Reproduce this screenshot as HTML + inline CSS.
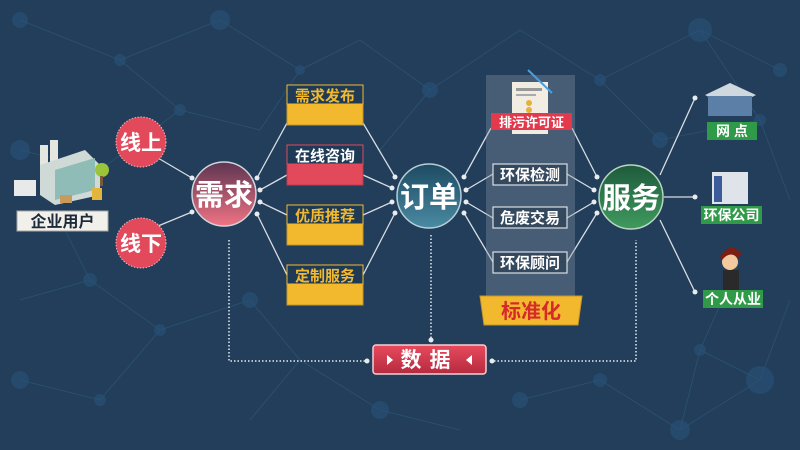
<!DOCTYPE html>
<html><head><meta charset="utf-8"><style>
html,body{margin:0;padding:0;background:#213c58;}
svg{display:block;font-family:"Liberation Sans","Noto Sans CJK SC",sans-serif;font-weight:bold;}
</style></head><body>
<svg width="800" height="450" viewBox="0 0 800 450" xmlns="http://www.w3.org/2000/svg">
<defs>
<linearGradient id="gr" x1="0" y1="0" x2="0" y2="1"><stop offset="0" stop-color="#5e3550"/><stop offset="1" stop-color="#f07384"/></linearGradient>
<linearGradient id="gt" x1="0" y1="0" x2="0" y2="1"><stop offset="0" stop-color="#1d4a62"/><stop offset="1" stop-color="#4a8aa3"/></linearGradient>
<linearGradient id="gg" x1="0" y1="0" x2="0" y2="1"><stop offset="0" stop-color="#1e5a3c"/><stop offset="1" stop-color="#3f9a5e"/></linearGradient>
<linearGradient id="gd" x1="0" y1="0" x2="0" y2="1"><stop offset="0" stop-color="#e84a5c"/><stop offset="1" stop-color="#b52a40"/></linearGradient>
</defs>
<rect width="800" height="450" fill="#223e5a"/>
<g stroke="#2d5272" stroke-width="1" fill="none" opacity="0.8">
<path d="M20 20L120 60L180 110L100 170L20 150M120 60L220 20L300 70L360 40L430 90L520 30L600 80L700 30L780 70M300 70L260 130L180 110M430 90L380 150M600 80L660 140L760 120L790 200M700 30L760 120M20 300L90 280L160 330L100 400L20 380M160 330L250 300L300 360L250 420M300 360L380 410L460 430M520 400L600 380L680 430L760 380L790 300M680 430L700 350L760 380M60 220L90 280M700 350L740 260"/>
</g>
<g fill="#285075" opacity="0.7">
<circle cx="20" cy="20" r="8"/><circle cx="120" cy="60" r="6"/><circle cx="220" cy="20" r="10"/><circle cx="300" cy="70" r="5"/><circle cx="430" cy="90" r="8"/><circle cx="600" cy="80" r="6"/><circle cx="700" cy="30" r="12"/><circle cx="780" cy="70" r="7"/><circle cx="180" cy="110" r="6"/><circle cx="20" cy="150" r="10"/><circle cx="660" cy="140" r="8"/><circle cx="760" cy="120" r="6"/><circle cx="90" cy="280" r="7"/><circle cx="20" cy="380" r="9"/><circle cx="160" cy="330" r="6"/><circle cx="250" cy="300" r="8"/><circle cx="100" cy="400" r="6"/><circle cx="380" cy="410" r="9"/><circle cx="600" cy="380" r="7"/><circle cx="680" cy="430" r="10"/><circle cx="760" cy="380" r="14"/><circle cx="700" cy="350" r="6"/><circle cx="520" cy="400" r="8"/>
</g>
<g stroke="#d8dde2" stroke-width="1.3" fill="none">
<path d="M158 158L192 178M158 226L192 212"/>
<path d="M257 178L287 123M260 190L287 175M260 202L287 215M257 214L287 275"/>
<path d="M363 123L395 177M363 175L392 188M363 215L392 202M363 275L395 213"/>
<path d="M464 177L491 128M466 190L493 174M466 202L493 218M464 213L493 262"/>
<path d="M572 128L597 177M567 174L594 190M567 218L594 202M567 262L597 213"/>
<path d="M660 175L695 98M664 197L695 197M660 220L695 292"/>
</g>
<g fill="#e8ecef">
<circle cx="192" cy="178" r="2.5"/><circle cx="192" cy="212" r="2.5"/><circle cx="257" cy="178" r="2.5"/><circle cx="260" cy="190" r="2.5"/><circle cx="260" cy="202" r="2.5"/><circle cx="257" cy="214" r="2.5"/>
<circle cx="395" cy="177" r="2.5"/><circle cx="392" cy="188" r="2.5"/><circle cx="392" cy="202" r="2.5"/><circle cx="395" cy="213" r="2.5"/>
<circle cx="464" cy="177" r="2.5"/><circle cx="466" cy="190" r="2.5"/><circle cx="466" cy="202" r="2.5"/><circle cx="464" cy="213" r="2.5"/>
<circle cx="597" cy="177" r="2.5"/><circle cx="594" cy="190" r="2.5"/><circle cx="594" cy="202" r="2.5"/><circle cx="597" cy="213" r="2.5"/>
<circle cx="695" cy="98" r="2.5"/><circle cx="695" cy="197" r="2.5"/><circle cx="695" cy="292" r="2.5"/>
<circle cx="431" cy="340" r="2.5"/><circle cx="367" cy="361" r="2.5"/><circle cx="492" cy="361" r="2.5"/>
</g>
<g stroke="#e8ecef" stroke-width="1.5" stroke-dasharray="1.5 2" fill="none">
<path d="M229 240V361H365M431 235V338M494 361H636V240"/>
</g>
<rect x="486" y="75" width="89" height="250" fill="#8a99a8" opacity="0.35"/>
<g>
<rect x="40" y="145" width="8" height="30" fill="#e6e6e0"/><rect x="50" y="140" width="8" height="35" fill="#e6e6e0"/>
<polygon points="40,165 85,150 100,165 100,195 55,205 40,195" fill="#cfd9d6"/>
<polygon points="55,170 95,158 95,190 55,200" fill="#8fbcb6"/>
<rect x="14" y="180" width="22" height="16" fill="#e8eaea"/>
<circle cx="102" cy="170" r="7" fill="#9cc43b"/><rect x="100" y="176" width="3" height="10" fill="#7a5a3a"/>
<rect x="60" y="195" width="12" height="8" fill="#c99a5b"/><rect x="92" y="188" width="10" height="12" fill="#e3b53a"/>
</g>
<rect x="17" y="211" width="91" height="20" fill="#f2f0ea" stroke="#a8a8a8"/>
<text x="62.5" y="227" font-size="16" text-anchor="middle" fill="#1d2a3a">企业用户</text>
<circle cx="141" cy="142" r="25" fill="#e24a5c" stroke="#f4b5bd" stroke-dasharray="1.5 1.5"/>
<text x="141" y="150" font-size="21" text-anchor="middle" fill="#fff">线上</text>
<circle cx="141" cy="243" r="25" fill="#e24a5c" stroke="#f4b5bd" stroke-dasharray="1.5 1.5"/>
<text x="141" y="251" font-size="21" text-anchor="middle" fill="#fff">线下</text>
<circle cx="224" cy="194" r="32" fill="url(#gr)" stroke="#cfd6dc" stroke-width="1.5"/>
<text x="224" y="205" font-size="29" text-anchor="middle" fill="#fff">需求</text>
<circle cx="429" cy="196" r="32" fill="url(#gt)" stroke="#b8cfd8" stroke-width="1.5"/>
<text x="429" y="207" font-size="29" text-anchor="middle" fill="#fff">订单</text>
<circle cx="631" cy="197" r="32" fill="url(#gg)" stroke="#b8d8c2" stroke-width="1.5"/>
<text x="631" y="208" font-size="29" text-anchor="middle" fill="#fff">服务</text>
<g>
<rect x="287" y="85" width="76" height="40" fill="#f3b92e" stroke="#c6962b"/><rect x="287" y="85" width="76" height="19" fill="#1e3a55" stroke="#f3b92e"/>
<text x="325" y="101" font-size="15" text-anchor="middle" fill="#f3b92e">需求发布</text>
<rect x="287" y="145" width="76" height="40" fill="#e24a5c" stroke="#c03a4c"/><rect x="287" y="145" width="76" height="19" fill="#1e3a55" stroke="#e24a5c"/>
<text x="325" y="161" font-size="15" text-anchor="middle" fill="#fff">在线咨询</text>
<rect x="287" y="205" width="76" height="40" fill="#f3b92e" stroke="#c6962b"/><rect x="287" y="205" width="76" height="19" fill="#1e3a55" stroke="#f3b92e"/>
<text x="325" y="221" font-size="15" text-anchor="middle" fill="#f3b92e">优质推荐</text>
<rect x="287" y="265" width="76" height="40" fill="#f3b92e" stroke="#c6962b"/><rect x="287" y="265" width="76" height="19" fill="#1e3a55" stroke="#f3b92e"/>
<text x="325" y="281" font-size="15" text-anchor="middle" fill="#f3b92e">定制服务</text>
</g>
<rect x="512" y="82" width="36" height="52" fill="#f1ede2"/>
<rect x="516" y="88" width="26" height="3" fill="#999"/><rect x="516" y="94" width="20" height="2" fill="#aaa"/>
<circle cx="529" cy="103" r="3" fill="#e6b13a"/><circle cx="529" cy="110" r="3" fill="#e6b13a"/>
<line x1="528" y1="70" x2="552" y2="93" stroke="#4aa0e0" stroke-width="2"/>
<rect x="491" y="113" width="81" height="17" fill="#e2394d"/>
<text x="531.5" y="127" font-size="13" text-anchor="middle" fill="#fff">排污许可证</text>
<g fill="#34495e" stroke="#d8dde2" stroke-width="1.2">
<rect x="493" y="164" width="74" height="21"/><rect x="493" y="207" width="74" height="21"/><rect x="493" y="252" width="74" height="21"/>
</g>
<g font-size="15" text-anchor="middle" fill="#fff">
<text x="530" y="180">环保检测</text><text x="530" y="223">危废交易</text><text x="530" y="268">环保顾问</text>
</g>
<polygon points="480,296 582,296 578,325 484,325" fill="#f3b92e" stroke="#c6962b"/>
<text x="531" y="318" font-size="20" text-anchor="middle" fill="#d62a2a">标准化</text>
<rect x="373" y="345" width="113" height="29" rx="3" fill="url(#gd)" stroke="#f3d0d4" stroke-width="1.5"/>
<polygon points="387,355 387,365 393,360" fill="#fff"/><polygon points="472,355 472,365 466,360" fill="#fff"/>
<text x="429.5" y="367" font-size="21" text-anchor="middle" fill="#fff" letter-spacing="8">数据</text>
<polygon points="705,95 730,83 756,95 730,108" fill="#cfd8de"/><rect x="708" y="96" width="44" height="20" fill="#5c7fa8"/>
<rect x="707" y="122" width="50" height="18" fill="#2f9a48"/>
<text x="732" y="136" font-size="14" text-anchor="middle" fill="#fff">网 点</text>
<rect x="712" y="172" width="36" height="32" fill="#dfe4ea"/><rect x="714" y="176" width="8" height="26" fill="#3c5b9a"/>
<rect x="701" y="206" width="61" height="18" fill="#2f9a48"/>
<text x="731.5" y="220" font-size="14" text-anchor="middle" fill="#fff">环保公司</text>
<circle cx="730" cy="262" r="8" fill="#f3c9a0"/><path d="M720 257Q730 240 742 254L738 258Q730 250 722 260Z" fill="#7a1f12"/>
<rect x="723" y="270" width="16" height="20" fill="#2a2a2a"/>
<rect x="703" y="290" width="60" height="18" fill="#2f9a48"/>
<text x="733" y="304" font-size="14" text-anchor="middle" fill="#fff">个人从业</text>
</svg>
</body></html>
